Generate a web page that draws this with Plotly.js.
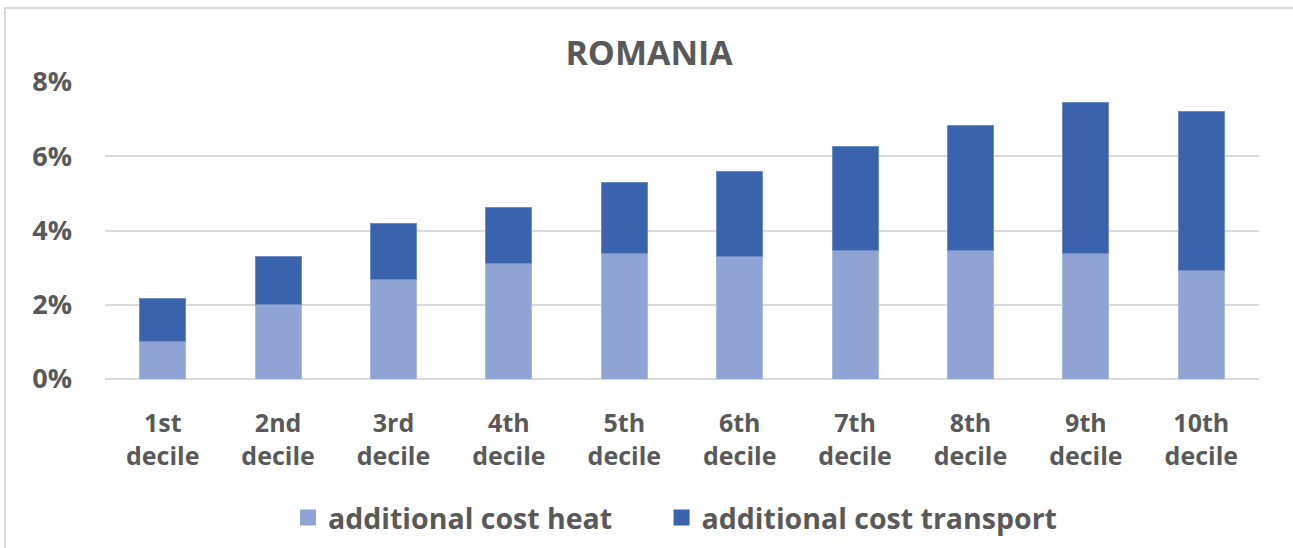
<!DOCTYPE html>
<html>
<head>
<meta charset="utf-8">
<script src="https://cdn.plot.ly/plotly-3.0.1.min.js"></script>
<style>
  html, body { margin: 0; padding: 0; background: #fff; overflow: hidden; width: 1293px; height: 548px; }
  #frame { position: absolute; left: 4px; top: 7px; width: 1289px; height: 541px; box-sizing: border-box; border-left: 2px solid #d9d9d9; border-top: 2px solid #d9d9d9; }
  #chart { position: absolute; left: 0; top: 0; width: 1293px; height: 548px; }
</style>
</head>
<body>
<div id="frame"></div>
<div id="chart"></div>
<script>
const categories = ["1st<br>decile", "2nd<br>decile", "3rd<br>decile", "4th<br>decile", "5th<br>decile",
                    "6th<br>decile", "7th<br>decile", "8th<br>decile", "9th<br>decile", "10th<br>decile"];
const heatCost = [1.02, 2.02, 2.69, 3.10, 3.39, 3.29, 3.45, 3.45, 3.39, 2.91];
const transportCost = [1.16, 1.29, 1.49, 1.53, 1.89, 2.29, 2.80, 3.39, 4.07, 4.29];
const seriesNames = ["additional cost heat", "additional cost transport"];
const seriesColors = ["#8FA4D5", "#3A63AD"];
const yTicks = [0, 2, 4, 6, 8];
const yTickLabels = ["0%", "2%", "4%", "6%", "8%"];

const fontFam = "'Open Sans', 'Noto Sans', sans-serif";
const grey = "#595959";
const pad = "\u00a0\u00a0\u00a0\u00a0\u00a0\u00a0";

const traces = [
  { type: "bar", name: seriesNames[0], x: categories, y: heatCost, showlegend: false,
    marker: { color: seriesColors[0], line: { color: "#a9b9e0", width: 1 } } },
  { type: "bar", name: seriesNames[1], x: categories, y: transportCost, showlegend: false,
    marker: { color: seriesColors[1], line: { color: "#6f8cc6", width: 1 } } },
  { type: "scatter", mode: "markers", name: seriesNames[0] + pad, x: [categories[0]], y: [null],
    marker: { symbol: "square", size: 18, color: seriesColors[0] }, hoverinfo: "skip" },
  { type: "scatter", mode: "markers", name: seriesNames[1], x: [categories[0]], y: [null],
    marker: { symbol: "square", size: 18, color: seriesColors[1] }, hoverinfo: "skip" }
];

const layout = {
  width: 1293, height: 548,
  barmode: "stack",
  bargap: 0.6,
  paper_bgcolor: "rgba(0,0,0,0)",
  plot_bgcolor: "rgba(0,0,0,0)",
  margin: { l: 105, r: 34, t: 82, b: 169, autoexpand: false },
  title: { text: "<b>ROMANIA</b>", x: 0.502, xanchor: "center", y: 0.903, yanchor: "middle",
           font: { family: fontFam, size: 34, color: grey } },
  font: { family: fontFam, color: grey },
  xaxis: {
    type: "category",
    range: [-0.5, 9.5],
    tickfont: { family: fontFam, size: 25, color: grey, weight: "bold" },
    showgrid: false, showline: false, ticks: "",
    ticklabelstandoff: 27
  },
  yaxis: {
    range: [0, 8],
    tickmode: "array",
    tickvals: yTicks,
    ticktext: yTickLabels,
    tickfont: { family: fontFam, size: 27, color: grey, weight: "bold" },
    showgrid: true, gridcolor: "#d9d9d9", gridwidth: 2,
    zeroline: true, zerolinecolor: "#d9d9d9", zerolinewidth: 2,
    showline: false, ticks: "",
    ticklabelstandoff: 32
  },
  legend: {
    orientation: "h", xref: "container", x: 288 / 1293, xanchor: "left",
    yref: "container", y: 0.055, yanchor: "middle",
    font: { family: fontFam, size: 28.5, color: grey, weight: "bold" },
    traceorder: "normal",
    itemwidth: 30,
    bgcolor: "rgba(0,0,0,0)"
  },
  showlegend: true
};

Plotly.newPlot("chart", traces, layout, { displayModeBar: false, staticPlot: true });
</script>
</body>
</html>
